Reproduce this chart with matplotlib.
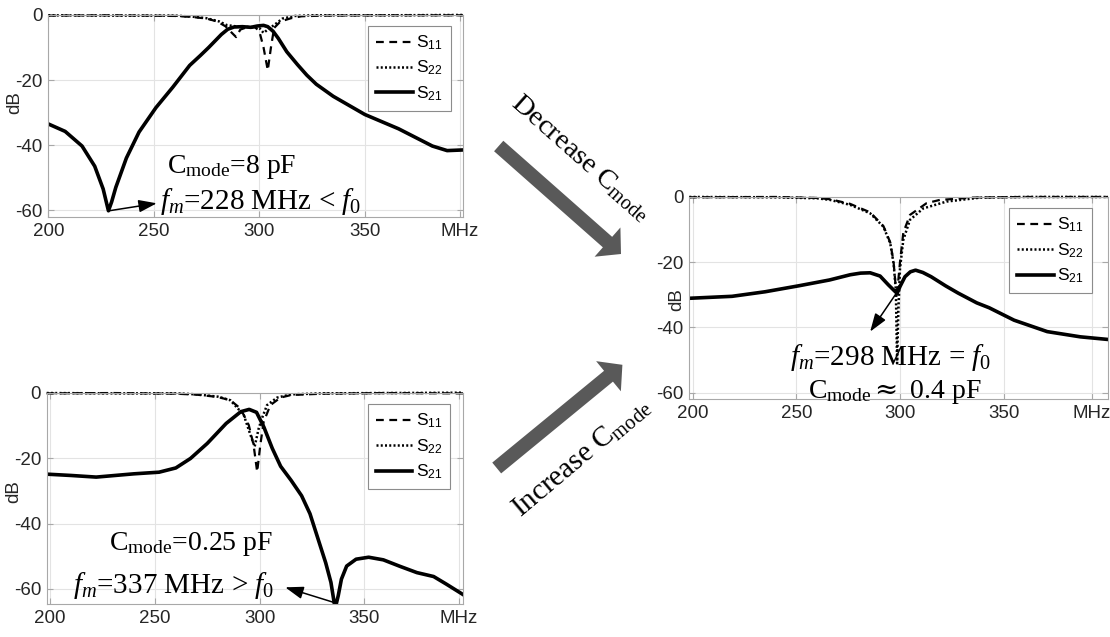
import numpy as np
import matplotlib
matplotlib.use('Agg')
import matplotlib.pyplot as plt
from matplotlib.patches import FancyArrow

plt.rcParams['font.family'] = ['Liberation Sans', 'DejaVu Sans']
plt.rcParams['mathtext.fontset'] = 'custom'
plt.rcParams['mathtext.rm'] = 'Liberation Serif'
plt.rcParams['mathtext.it'] = 'Liberation Serif:italic'
plt.rcParams['mathtext.sf'] = 'Liberation Sans'
plt.rcParams['axes.unicode_minus'] = False

# ---- top left: Cmode = 8 pF
tl_f21 = [200, 208, 216, 222, 226, 228.5, 230, 232, 237, 243, 251, 259, 267, 272, 276, 279, 282, 285, 288, 292,
          296, 299, 302, 304, 306.5, 309, 313, 318, 322.5, 327, 335, 350, 366, 382, 389, 396.5]
tl_s21 = [-33.5, -35.8, -40.3, -46.5, -53.5, -60.2, -57.5, -53, -44, -36, -28.5, -22.2, -15.5, -12.5, -10, -8, -6,
          -4.4, -3.7, -3.6, -3.8, -3.4, -3.2, -3.6, -5, -7.2, -11.3, -15.2, -18.5, -21.3, -25, -30.6, -35, -40.3,
          -41.7, -41.5]
tl_f11 = [200, 230, 260, 268, 275, 280, 284, 287, 289, 291, 294, 298, 300, 302, 304, 305.5, 307, 310, 315, 320,
          330, 360, 396.5]
tl_s11 = [-0.2, -0.1, -0.3, -0.6, -1.1, -2, -3.5, -5.5, -6.8, -4.5, -3.8, -3.8, -5, -10, -17, -10, -4, -2, -1,
          -0.4, -0.2, -0.1, -0.1]
tl_f22 = [200, 230, 260, 268, 275, 281, 284.5, 290, 296, 300, 302, 304, 307, 311, 317, 325, 360, 396.5]
tl_s22 = [-0.1, -0.2, -0.2, -0.5, -1, -2, -3.1, -3.6, -3.7, -4, -5.5, -4.5, -3.1, -1.1, -0.3, -0.1, -0.1, 0]

# ---- bottom left: Cmode = 0.25 pF
bl_f21 = [198.4, 210, 222, 240, 252, 260, 267, 275, 284, 291, 295, 298.5, 302, 306, 310, 315, 320, 324, 328,
          331.5, 334, 336, 337.5, 339, 341.5, 346, 352, 359, 367, 375, 383, 389, 397]
bl_s21 = [-24.9, -25.3, -25.8, -24.8, -24.3, -23, -20.1, -15.5, -9.4, -5.8, -5.1, -6, -10.5, -17, -22.5, -26.8,
          -31.5, -37, -45, -52, -58, -66, -62, -57, -53, -50.9, -50.3, -51.1, -53.1, -55, -56.2, -58.5, -61.7]
bl_f11 = [198.4, 230, 260, 270, 280, 286, 290.8, 294.8, 297.1, 298.8, 300.3, 301.9, 305.1, 309.9, 315, 330, 360, 397]
bl_s11 = [-0.2, -0.1, -0.3, -0.6, -1.3, -2.3, -4.8, -9.9, -16, -24.2, -16, -8.9, -3.8, -1.5, -0.7, -0.3, -0.1, -0.2]
bl_f22 = [198.4, 230, 260, 270, 280, 286, 292.4, 295.6, 297.6, 299.5, 301.1, 303.5, 308.3, 315, 330, 360, 397]
bl_s22 = [-0.1, -0.2, -0.2, -0.5, -1.2, -2.3, -6.8, -12.9, -16.5, -11, -7.8, -3.8, -1.5, -0.5, -0.2, -0.1, 0]

# ---- right: Cmode ~ 0.4 pF
r_f21 = [198.4, 219, 235, 251, 266, 276, 281, 285.6, 290.4, 294.4, 297.6, 298.6, 300, 302.4, 305, 307.5, 311, 315,
         322, 328, 337, 343, 355, 371, 387, 400.3]
r_s21 = [-31.1, -30.5, -29.1, -27.3, -25.5, -23.9, -23.4, -23.3, -24.3, -27, -29, -29.6, -27.5, -24.5, -23, -22.5,
         -23.2, -24.5, -27.3, -29.5, -32.5, -34, -37.8, -41.3, -42.9, -43.7]
r_f11 = [198.4, 240, 260, 266.3, 275.9, 285.6, 292, 295.3, 296.9, 298.4, 300, 301.6, 304.8, 312.8, 319.2, 335, 360,
         400.3]
r_s11 = [-0.2, -0.1, -0.4, -0.8, -2.2, -4.8, -9, -14, -20, -31, -20, -11, -5.6, -2, -1, -0.3, -0.1, -0.1]
r_f22 = [198.4, 240, 260, 266.3, 275.9, 285.6, 292, 295.3, 296.9, 298, 298.6, 299.2, 300, 301.6, 304.8, 311.2,
         322.5, 338.6, 360, 400.3]
r_s22 = [-0.1, -0.2, -0.5, -1, -2.5, -5.1, -9.2, -14.3, -20.4, -28.5, -51, -35, -22, -13.2, -7.1, -3.6, -1.5,
         -0.3, -0.1, -0.1]

xticks_left = [200, 250, 300, 350, 395]
xticks_right = [200, 250, 300, 350, 392.5]
xticklabels = ['200', '250', '300', '350', 'MHz']
yticks = [0, -20, -40, -60]
labels = ['S$_{\\mathsf{11}}$', 'S$_{\\mathsf{22}}$', 'S$_{\\mathsf{21}}$']

fig = plt.figure(figsize=(11.1, 6.37), dpi=100)


def panel(rect, xlim, ylim, xt, f11, s11, f22, s22, f21, s21, leg_anchor, lab_xy):
    ax = fig.add_axes(rect)
    ax.plot(f11, s11, color='k', ls=(0, (3.5, 2.5)), lw=1.6, label=labels[0], clip_on=False)
    ax.plot(f22, s22, color='k', ls=(0, (0.8, 0.9)), lw=1.8, label=labels[1], clip_on=False)
    ax.plot(f21, s21, color='k', ls='-', lw=2.6, label=labels[2])
    ax.set_xlim(xlim)
    ax.set_ylim(ylim)
    ax.set_xticks(xt)
    ax.set_xticklabels(xticklabels)
    ax.set_yticks(yticks)
    ax.grid(True, color='#e3e3e3', lw=0.8)
    ax.set_axisbelow(True)
    for s in ax.spines.values():
        s.set_color('#a8a8a8')
        s.set_linewidth(0.8)
    ax.tick_params(direction='in', length=4, width=0.8, color='#a8a8a8', labelcolor='#262626',
                   labelsize=13.5, top=True, right=True, pad=4)
    ax.set_ylabel('dB', fontsize=13.5, color='#262626')
    ax.yaxis.set_label_coords(*lab_xy)
    leg = ax.legend(loc='upper right', bbox_to_anchor=leg_anchor, fontsize=12.5, fancybox=False,
                    framealpha=1, edgecolor='#8c8c8c', handlelength=2.1, handletextpad=0.2,
                    labelspacing=0.4, borderpad=0.45, borderaxespad=0)
    leg.get_frame().set_linewidth(0.8)
    return ax


ax1 = panel([0.0435, 0.6589, 0.3736, 0.3176], (200, 396.5), (-62.2, 0), xticks_left,
            tl_f11, tl_s11, tl_f22, tl_s22, tl_f21, tl_s21, (0.970, 0.946), (-0.060, 0.565))
ax2 = panel([0.0421, 0.0518, 0.375, 0.3317], (198.4, 397), (-64.6, 0), xticks_left,
            bl_f11, bl_s11, bl_f22, bl_s22, bl_f21, bl_s21, (0.969, 0.946), (-0.058, 0.53))
ax3 = panel([0.621, 0.3732, 0.3772, 0.3181], (198.4, 400.3), (-62, 0), xticks_right,
            r_f11, r_s11, r_f22, r_s22, r_f21, r_s21, (0.961, 0.943), (-0.010, 0.49))

serif = dict(family='Liberation Serif', fontsize=20, color='k', va='baseline')
serif_f = dict(serif, fontsize=21)
arr = dict(arrowstyle='-|>,head_length=1.1,head_width=0.38', color='k', lw=1.1, shrinkA=0, shrinkB=0)

ax1.text(256.3, -48.6, 'C$_{\\mathrm{mode}}$=8 pF', **serif)
ax1.text(252.9, -59.6, '$f_m$=228 MHz < $f_{\\mathit{0}}$', **serif_f)
ax1.annotate('', xy=(251.4, -57.9), xytext=(228.8, -60.2), arrowprops=arr)

ax2.text(228, -48.1, 'C$_{\\mathrm{mode}}$=0.25 pF', **serif)
ax2.text(210.7, -61.3, '$f_m$=337 MHz > $f_{\\mathit{0}}$', **serif_f)
ax2.annotate('', xy=(312.2, -59.5), xytext=(336.3, -64.3), arrowprops=arr, annotation_clip=False)

ax3.text(247, -51.5, '$f_m$=298 MHz = $f_{\\mathit{0}}$', **serif_f)
ax3.text(255.7, -61.7, 'C$_{\\mathrm{mode}}$', **serif)
ax3.text(285.0, -61.7, '$\\approx$ 0.4 pF', math_fontfamily='dejavuserif', **serif)
ax3.annotate('', xy=(285.6, -41.3), xytext=(298.3, -29.5), arrowprops=arr)

# overlay in pixel units for the big grey arrows
ov = fig.add_axes([0, 0, 1, 1])
ov.set_xlim(0, 1110)
ov.set_ylim(637, 0)
ov.axis('off')
ov.add_patch(FancyArrow(498.7, 146, 621 - 498.7, 254 - 146, width=14, head_width=39, head_length=18,
                        length_includes_head=True, color='#595959', lw=0))
ov.add_patch(FancyArrow(496.7, 468, 622.4 - 496.7, 364.8 - 468, width=14, head_width=39, head_length=18,
                        length_includes_head=True, color='#595959', lw=0))
ov.text(581, 158, 'Decrease C$_{\\mathrm{mode}}$', family='Liberation Serif', fontsize=20.5,
        rotation=-41.5, rotation_mode='anchor', ha='center', va='center')
ov.text(582, 458, 'Increase C$_{\\mathrm{mode}}$', family='Liberation Serif', fontsize=21,
        rotation=40, rotation_mode='anchor', ha='center', va='center')

fig.savefig('out.png', dpi=100)
